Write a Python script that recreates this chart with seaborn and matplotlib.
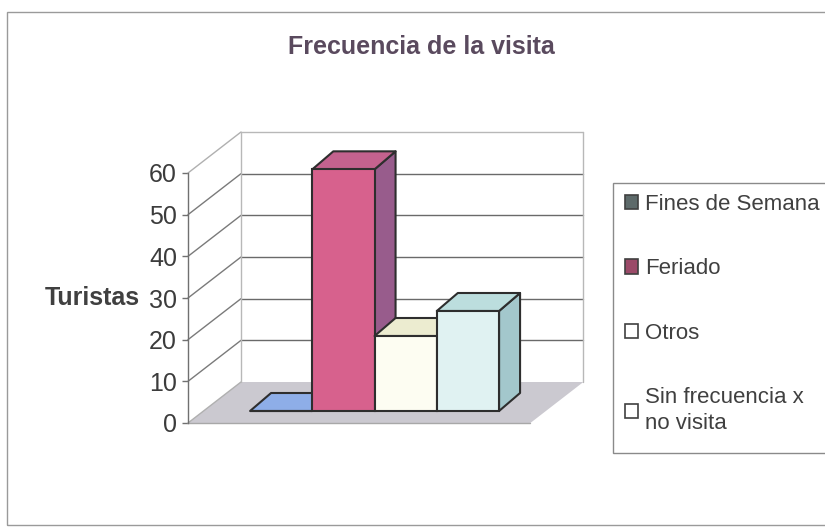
import matplotlib
matplotlib.use("Agg")
import matplotlib.pyplot as plt
import seaborn as sns
import pandas as pd
from matplotlib.patches import Polygon, Rectangle, Patch

# Frecuencia de la visita: número de turistas por tipo de visita
categories = ["Fines de Semana", "Feriado", "Otros", "Sin frecuencia x no visita"]
values = [0, 58, 18, 24]
legend_labels = ["Fines de Semana", "Feriado", "Otros", "Sin frecuencia x\nno visita"]
y_ticks = [0, 10, 20, 30, 40, 50, 60]

front_colors = ["#8eaee8", "#d7618d", "#fdfdf2", "#e0f2f2"]
top_colors = ["#8eaee8", "#c4628e", "#ececd0", "#bcdede"]
side_colors = ["#7f9ad0", "#985c8c", "#d8d8c0", "#a3c7cc"]
legend_colors = ["#5d6a6a", "#9b4a68", "#ffffff", "#ffffff"]

sns.set_style("white")
plt.rcParams["font.family"] = ["Liberation Sans", "DejaVu Sans"]

W, H = 825, 531
fig = plt.figure(figsize=(W / 100, H / 100), dpi=100)
fig.patch.set_facecolor("white")

# pixel scale of one category and of one unit of value
PX_X = 62.25
PX_Y = 250 / 60
XMIN, XMAX = -1.24, 4.26
YMAX = 60
AX_W = (XMAX - XMIN) * PX_X


def place(left_px, base_px):
    return [left_px / W, (H - base_px) / H, AX_W / W, (YMAX * PX_Y) / H]


# front plane carries the value axis, the bar plane sits a little deeper
ax_front = fig.add_axes(place(188, 423))
ax_bar = fig.add_axes(place(204, 411))

# outer chart frame
fig.add_artist(Rectangle((7 / W, 1 - 525 / H), 840 / W, 513 / H,
                         transform=fig.transFigure, fill=False,
                         ec="#9a9a9a", lw=1.0, zorder=0))

# walls and floor of the plot area
L, R = XMIN, XMAX
BX, BY = 53 / PX_X, 41 / PX_Y
ax_front.add_patch(Polygon([(L, 0), (R, 0), (R + BX, BY), (L + BX, BY)],
                           closed=True, fc="#cbc9d0", ec="none",
                           clip_on=False, zorder=1))
for v in y_ticks:
    if v == 0:
        continue
    col = "#b8b8b8" if v == YMAX else "#6a6a6a"
    ax_front.plot([L + BX, R + BX], [v + BY, v + BY], color=col, lw=1.0,
                  clip_on=False, zorder=2)
for v in y_ticks:
    col = "#b0b0b0" if v in (0, YMAX) else "#7a7a7a"
    ax_front.plot([L, L + BX], [v, v + BY], color=col, lw=1.0,
                  clip_on=False, zorder=2)
ax_front.plot([L + BX, L + BX], [BY, YMAX + BY], color="#b8b8b8", lw=1.0,
              clip_on=False, zorder=2)
ax_front.plot([R + BX, R + BX], [BY, YMAX + BY], color="#b8b8b8", lw=1.0,
              clip_on=False, zorder=2)
ax_front.plot([L, R], [0, 0], color="#a8a8a8", lw=1.0, clip_on=False,
              zorder=2)

# value axis
ax_front.set_xlim(XMIN, XMAX)
ax_front.set_ylim(0, YMAX)
ax_front.patch.set_alpha(0)
for s in ("top", "right", "bottom"):
    ax_front.spines[s].set_visible(False)
ax_front.spines["left"].set_color("#707070")
ax_front.spines["left"].set_linewidth(1.0)
ax_front.set_xticks([])
ax_front.set_yticks(y_ticks)
ax_front.set_yticklabels([str(t) for t in y_ticks])
ax_front.tick_params(axis="y", direction="out", length=4, width=1,
                     color="#707070", pad=4, labelsize=18,
                     labelcolor="#3c3c3c", left=True)
ax_front.set_ylabel("Turistas", rotation=0, fontsize=18, fontweight="bold",
                    color="#404040", ha="center", va="center")
ax_front.yaxis.set_label_coords((92 - 188) / AX_W, 0.5)
ax_front.grid(False)

# bars (front faces)
df = pd.DataFrame({"categoria": categories, "turistas": values})
sns.barplot(data=df, x="categoria", y="turistas", hue="categoria",
            palette=front_colors, saturation=1, width=1.0,
            edgecolor="#2e2e2e", linewidth=1.5, legend=False, ax=ax_bar)
ax_bar.set_xlim(XMIN, XMAX)
ax_bar.set_ylim(0, YMAX)
ax_bar.patch.set_alpha(0)
ax_bar.axis("off")

# depth faces of each bar
DX, DY = 21 / PX_X, 18 / PX_Y
for i, bar in enumerate(ax_bar.patches):
    x0 = bar.get_x()
    x1 = x0 + bar.get_width()
    h = bar.get_height()
    bar.set_clip_on(False)
    bar.set_zorder(4 + 2 * i)
    top = Polygon([(x0, h), (x1, h), (x1 + DX, h + DY), (x0 + DX, h + DY)],
                  closed=True, fc=top_colors[i], ec="#2e2e2e", lw=1.5,
                  joinstyle="round", clip_on=False, zorder=3 + 2 * i)
    side = Polygon([(x1, 0), (x1, h), (x1 + DX, h + DY), (x1 + DX, DY)],
                   closed=True, fc=side_colors[i], ec="#2e2e2e", lw=1.5,
                   joinstyle="round", clip_on=False, zorder=3 + 2 * i)
    ax_bar.add_patch(side)
    ax_bar.add_patch(top)

# title
fig.text(421 / W, 1 - 47 / H, "Frecuencia de la visita", ha="center",
         va="center", fontsize=18, fontweight="bold", color="#5a4a5e")

# legend box and entries
fig.add_artist(Rectangle((613 / W, 1 - 453 / H), 240 / W, 270 / H,
                         transform=fig.transFigure, fc="white",
                         ec="#8a8a8a", lw=1.0, zorder=1))
handles = [Patch(fc=c, ec="#404040", lw=1.2) for c in legend_colors]
leg = fig.legend(handles, legend_labels, loc="upper left",
                 bbox_to_anchor=(625 / W, 1 - 194 / H), frameon=False,
                 fontsize=16, labelspacing=1.95, handlelength=0.6,
                 handleheight=0.6, handletextpad=0.3, borderpad=0,
                 borderaxespad=0)
for t in leg.get_texts():
    t.set_color("#404040")
    t.set_linespacing(1.3)
leg.set_zorder(5)

fig.savefig("out.png", dpi=100, facecolor="white")
